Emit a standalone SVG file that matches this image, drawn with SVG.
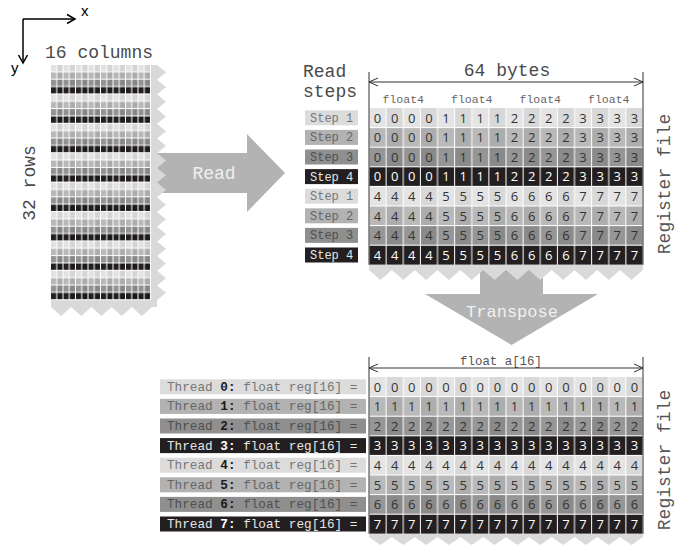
<svg xmlns="http://www.w3.org/2000/svg" width="675" height="546" viewBox="0 0 675 546">
<style>
.mono{font-family:"Liberation Mono","DejaVu Sans Mono",monospace}
.big{font-size:18px;fill:#4a4a4a}
.dig{font-family:"Open Sans","DejaVu Sans",sans-serif;font-size:13px;text-anchor:middle}
.dk{fill:#333}
.wt{fill:#fff}
.lbl{font-size:12px}
.thr{font-size:12.7px}
.sep{fill:#fff}
.ext{stroke:#333;stroke-width:1;fill:none}
.saw{fill:#d9d9d9}
.arw{fill:#b3b3b3}
.ax{stroke:#000;stroke-width:1.5;fill:none}
.reg{font-size:18px;fill:#555}
</style>
<defs>
<pattern id="src" x="51" y="65" width="12.5" height="29.4" patternUnits="userSpaceOnUse">
<rect x="0" y="0" width="5.25" height="6.35" fill="#e2e2e2"/><rect x="6.25" y="0" width="5.25" height="6.35" fill="#d4d4d4"/>
<rect x="0" y="7.35" width="5.25" height="6.35" fill="#b8b8b8"/><rect x="6.25" y="7.35" width="5.25" height="6.35" fill="#acacac"/>
<rect x="0" y="14.7" width="5.25" height="6.35" fill="#939393"/><rect x="6.25" y="14.7" width="5.25" height="6.35" fill="#878787"/>
<rect x="0" y="22.05" width="5.25" height="6.35" fill="#231f20"/><rect x="6.25" y="22.05" width="5.25" height="6.35" fill="#1c191a"/>
</pattern>
<pattern id="c0" x="369" y="0" width="34.25" height="600" patternUnits="userSpaceOnUse">
<rect x="0" y="0" width="17.125" height="600" fill="#e4e4e4"/><rect x="17.125" y="0" width="17.125" height="600" fill="#d8d8d8"/>
<rect x="16.625" y="0" width="1" height="600" fill="#fff"/><rect x="0" y="0" width="0.5" height="600" fill="#fff"/><rect x="33.75" y="0" width="0.5" height="600" fill="#fff"/>
</pattern>
<pattern id="c1" x="369" y="0" width="34.25" height="600" patternUnits="userSpaceOnUse">
<rect x="0" y="0" width="17.125" height="600" fill="#b9b9b9"/><rect x="17.125" y="0" width="17.125" height="600" fill="#adadad"/>
<rect x="16.625" y="0" width="1" height="600" fill="#fff"/><rect x="0" y="0" width="0.5" height="600" fill="#fff"/><rect x="33.75" y="0" width="0.5" height="600" fill="#fff"/>
</pattern>
<pattern id="c2" x="369" y="0" width="34.25" height="600" patternUnits="userSpaceOnUse">
<rect x="0" y="0" width="17.125" height="600" fill="#969696"/><rect x="17.125" y="0" width="17.125" height="600" fill="#8a8a8a"/>
<rect x="16.625" y="0" width="1" height="600" fill="#fff"/><rect x="0" y="0" width="0.5" height="600" fill="#fff"/><rect x="33.75" y="0" width="0.5" height="600" fill="#fff"/>
</pattern>
<pattern id="c3" x="369" y="0" width="34.25" height="600" patternUnits="userSpaceOnUse">
<rect x="0" y="0" width="34.25" height="600" fill="#231f20"/>
<rect x="16.625" y="0" width="1" height="600" fill="#fff"/><rect x="0" y="0" width="0.5" height="600" fill="#fff"/><rect x="33.75" y="0" width="0.5" height="600" fill="#fff"/>
</pattern>
</defs>
<rect x="0" y="0" width="675" height="546" fill="#fff"/>

<g id="axes">
<path class="ax" d="M23,19 V62 M23,19 H75"/>
<path class="ax" d="M18.5,55 L23,63 L27.5,55 M67,14.5 L75,19 L67,23.5"/>
<text x="81" y="16" font-family="Liberation Sans,Arial,sans-serif" font-size="15" fill="#000">x</text>
<text x="11" y="73" font-family="Liberation Sans,Arial,sans-serif" font-size="15" fill="#000">y</text>
</g>

<g id="source-grid">
<text class="mono big" x="45" y="58">16 columns</text>
<text class="mono big" transform="translate(35,183) rotate(-90)" text-anchor="middle">32 rows</text>
<rect x="51" y="65" width="100" height="235.2" fill="url(#src)"/>
</g>

<g id="read-arrow">
<polygon class="arw" points="152,153 247,153 247,134 285,173 247,212 247,193 152,193"/>
<polygon class="saw" points="151,65 157,65 166,72.35 157,79.7 166,87.05 157,94.4 166,101.75 157,109.1 166,116.45 157,123.8 166,131.15 157,138.5 166,145.85 157,153.2 166,160.55 157,167.9 166,175.25 157,182.6 166,189.95 157,197.3 166,204.65 157,212 166,219.35 157,226.7 166,234.05 157,241.4 166,248.75 157,256.1 166,263.45 157,270.8 166,278.15 157,285.5 166,292.85 157,300.2 157,307 152,307 141.9,316 131.8,307 121.7,316 111.6,307 101.5,316 91.4,307 81.3,316 71.2,307 61.1,316 51,307 51,300.2 151,300.2"/>
<text class="mono" x="214" y="179" font-size="18" fill="#f0f0f0" text-anchor="middle">Read</text>
</g>

<g id="read-steps">
<text class="mono big" x="303" y="77">Read</text>
<text class="mono big" x="303" y="97">steps</text>
<rect x="305" y="110.3" width="53" height="15" fill="#dcdcdc"/>
<rect x="305" y="129.9" width="53" height="15" fill="#b2b2b2"/>
<rect x="305" y="149.5" width="53" height="15" fill="#8f8f8f"/>
<rect x="305" y="169.1" width="53" height="15" fill="#231f20"/>
<rect x="305" y="188.7" width="53" height="15" fill="#dcdcdc"/>
<rect x="305" y="208.3" width="53" height="15" fill="#b2b2b2"/>
<rect x="305" y="227.9" width="53" height="15" fill="#8f8f8f"/>
<rect x="305" y="247.5" width="53" height="15" fill="#231f20"/>
<g class="mono lbl">
<text x="310" y="121.8" fill="#777">Step 1</text>
<text x="310" y="141.4" fill="#666">Step 2</text>
<text x="310" y="161" fill="#505050">Step 3</text>
<text x="310" y="180.6" fill="#e6e6e6">Step 4</text>
<text x="310" y="200.2" fill="#777">Step 1</text>
<text x="310" y="219.8" fill="#666">Step 2</text>
<text x="310" y="239.4" fill="#505050">Step 3</text>
<text x="310" y="259" fill="#e6e6e6">Step 4</text>
</g>
</g>

<g id="register-file-top">
<text class="mono big" x="507" y="76" text-anchor="middle">64 bytes</text>
<g class="mono" font-size="11.5" fill="#666" text-anchor="middle">
<text x="403.25" y="103">float4</text>
<text x="471.75" y="103">float4</text>
<text x="540.25" y="103">float4</text>
<text x="608.75" y="103">float4</text>
</g>
<rect x="369" y="108" width="274" height="19.6" fill="url(#c0)"/>
<rect x="369" y="127.6" width="274" height="19.6" fill="url(#c1)"/>
<rect x="369" y="147.2" width="274" height="19.6" fill="url(#c2)"/>
<rect x="369" y="166.8" width="274" height="19.6" fill="url(#c3)"/>
<rect x="369" y="186.4" width="274" height="19.6" fill="url(#c0)"/>
<rect x="369" y="206" width="274" height="19.6" fill="url(#c1)"/>
<rect x="369" y="225.6" width="274" height="19.6" fill="url(#c2)"/>
<rect x="369" y="245.2" width="274" height="19.6" fill="url(#c3)"/>
<g class="sep">
<rect x="369" y="127.1" width="274" height="1"/><rect x="369" y="146.7" width="274" height="1"/><rect x="369" y="166.3" width="274" height="1"/><rect x="369" y="185.9" width="274" height="1"/><rect x="369" y="205.5" width="274" height="1"/><rect x="369" y="225.1" width="274" height="1"/><rect x="369" y="244.7" width="274" height="1"/>
</g>
<g class="dig">
<text class="dk" x="377.56 394.69 411.81 428.94 446.06 463.19 480.31 497.44 514.56 531.69 548.81 565.94 583.06 600.19 617.31 634.44" y="122.5">0000111122223333</text>
<text class="dk" x="377.56 394.69 411.81 428.94 446.06 463.19 480.31 497.44 514.56 531.69 548.81 565.94 583.06 600.19 617.31 634.44" y="142.1">0000111122223333</text>
<text class="dk" x="377.56 394.69 411.81 428.94 446.06 463.19 480.31 497.44 514.56 531.69 548.81 565.94 583.06 600.19 617.31 634.44" y="161.7">0000111122223333</text>
<text class="wt" x="377.56 394.69 411.81 428.94 446.06 463.19 480.31 497.44 514.56 531.69 548.81 565.94 583.06 600.19 617.31 634.44" y="181.3">0000111122223333</text>
<text class="dk" x="377.56 394.69 411.81 428.94 446.06 463.19 480.31 497.44 514.56 531.69 548.81 565.94 583.06 600.19 617.31 634.44" y="200.9">4444555566667777</text>
<text class="dk" x="377.56 394.69 411.81 428.94 446.06 463.19 480.31 497.44 514.56 531.69 548.81 565.94 583.06 600.19 617.31 634.44" y="220.5">4444555566667777</text>
<text class="dk" x="377.56 394.69 411.81 428.94 446.06 463.19 480.31 497.44 514.56 531.69 548.81 565.94 583.06 600.19 617.31 634.44" y="240.1">4444555566667777</text>
<text class="wt" x="377.56 394.69 411.81 428.94 446.06 463.19 480.31 497.44 514.56 531.69 548.81 565.94 583.06 600.19 617.31 634.44" y="259.7">4444555566667777</text>
</g>
<text class="mono reg" transform="translate(670,184) rotate(-90)" text-anchor="middle">Register file</text>
</g>

<g id="transpose-arrow">
<polygon class="arw" points="480,266 543,266 543,294 598,294 511.5,345 425,294 480,294"/>
<polygon class="saw" points="369,264.8 643,264.8 643,270 631.58,280 620.17,270 608.75,280 597.33,270 585.92,280 574.5,270 563.08,280 551.67,270 540.25,280 528.83,270 517.42,280 506,270 494.58,280 483.17,270 471.75,280 460.33,270 448.92,280 437.5,270 426.08,280 414.67,270 403.25,280 391.83,270 380.42,280 369,270"/>
<text class="mono" x="512" y="317" font-size="17" fill="#f0f0f0" text-anchor="middle">Transpose</text>
</g>

<g id="thread-labels">
<rect x="160" y="379.3" width="206" height="15" fill="#dcdcdc"/>
<rect x="160" y="398.9" width="206" height="15" fill="#b2b2b2"/>
<rect x="160" y="418.5" width="206" height="15" fill="#8f8f8f"/>
<rect x="160" y="438.1" width="206" height="15" fill="#231f20"/>
<rect x="160" y="457.7" width="206" height="15" fill="#dcdcdc"/>
<rect x="160" y="477.3" width="206" height="15" fill="#b2b2b2"/>
<rect x="160" y="496.9" width="206" height="15" fill="#8f8f8f"/>
<rect x="160" y="516.5" width="206" height="15" fill="#231f20"/>
<g class="mono thr" xml:space="preserve">
<text x="167" y="390.8" fill="#777">Thread <tspan font-weight="bold" fill="#1a1a1a">0:</tspan> float reg[16] =</text>
<text x="167" y="410.4" fill="#666">Thread <tspan font-weight="bold" fill="#1a1a1a">1:</tspan> float reg[16] =</text>
<text x="167" y="430" fill="#505050">Thread <tspan font-weight="bold" fill="#1a1a1a">2:</tspan> float reg[16] =</text>
<text x="167" y="449.6" fill="#e6e6e6">Thread <tspan font-weight="bold" fill="#fff">3:</tspan> float reg[16] =</text>
<text x="167" y="469.2" fill="#777">Thread <tspan font-weight="bold" fill="#1a1a1a">4:</tspan> float reg[16] =</text>
<text x="167" y="488.8" fill="#666">Thread <tspan font-weight="bold" fill="#1a1a1a">5:</tspan> float reg[16] =</text>
<text x="167" y="508.4" fill="#505050">Thread <tspan font-weight="bold" fill="#1a1a1a">6:</tspan> float reg[16] =</text>
<text x="167" y="528" fill="#e6e6e6">Thread <tspan font-weight="bold" fill="#fff">7:</tspan> float reg[16] =</text>
</g>
</g>

<g id="register-file-bottom">
<text class="mono" x="501" y="365" font-size="12.4" fill="#555" text-anchor="middle">float a[16]</text>
<rect x="369" y="377" width="274" height="19.6" fill="url(#c0)"/>
<rect x="369" y="396.6" width="274" height="19.6" fill="url(#c1)"/>
<rect x="369" y="416.2" width="274" height="19.6" fill="url(#c2)"/>
<rect x="369" y="435.8" width="274" height="19.6" fill="url(#c3)"/>
<rect x="369" y="455.4" width="274" height="19.6" fill="url(#c0)"/>
<rect x="369" y="475" width="274" height="19.6" fill="url(#c1)"/>
<rect x="369" y="494.6" width="274" height="19.6" fill="url(#c2)"/>
<rect x="369" y="514.2" width="274" height="19.6" fill="url(#c3)"/>
<g class="sep">
<rect x="369" y="396.1" width="274" height="1"/><rect x="369" y="415.7" width="274" height="1"/><rect x="369" y="435.3" width="274" height="1"/><rect x="369" y="454.9" width="274" height="1"/><rect x="369" y="474.5" width="274" height="1"/><rect x="369" y="494.1" width="274" height="1"/><rect x="369" y="513.7" width="274" height="1"/>
</g>
<g class="dig">
<text class="dk" x="377.56 394.69 411.81 428.94 446.06 463.19 480.31 497.44 514.56 531.69 548.81 565.94 583.06 600.19 617.31 634.44" y="391.5">0000000000000000</text>
<text class="dk" x="377.56 394.69 411.81 428.94 446.06 463.19 480.31 497.44 514.56 531.69 548.81 565.94 583.06 600.19 617.31 634.44" y="411.1">1111111111111111</text>
<text class="dk" x="377.56 394.69 411.81 428.94 446.06 463.19 480.31 497.44 514.56 531.69 548.81 565.94 583.06 600.19 617.31 634.44" y="430.7">2222222222222222</text>
<text class="wt" x="377.56 394.69 411.81 428.94 446.06 463.19 480.31 497.44 514.56 531.69 548.81 565.94 583.06 600.19 617.31 634.44" y="450.3">3333333333333333</text>
<text class="dk" x="377.56 394.69 411.81 428.94 446.06 463.19 480.31 497.44 514.56 531.69 548.81 565.94 583.06 600.19 617.31 634.44" y="469.9">4444444444444444</text>
<text class="dk" x="377.56 394.69 411.81 428.94 446.06 463.19 480.31 497.44 514.56 531.69 548.81 565.94 583.06 600.19 617.31 634.44" y="489.5">5555555555555555</text>
<text class="dk" x="377.56 394.69 411.81 428.94 446.06 463.19 480.31 497.44 514.56 531.69 548.81 565.94 583.06 600.19 617.31 634.44" y="509.1">6666666666666666</text>
<text class="wt" x="377.56 394.69 411.81 428.94 446.06 463.19 480.31 497.44 514.56 531.69 548.81 565.94 583.06 600.19 617.31 634.44" y="528.7">7777777777777777</text>
</g>
<polygon class="saw" points="369,533.8 643,533.8 643,537 631.58,545 620.17,537 608.75,545 597.33,537 585.92,545 574.5,537 563.08,545 551.67,537 540.25,545 528.83,537 517.42,545 506,537 494.58,545 483.17,537 471.75,545 460.33,537 448.92,545 437.5,537 426.08,545 414.67,537 403.25,545 391.83,537 380.42,545 369,537"/>
<text class="mono reg" transform="translate(670,460) rotate(-90)" text-anchor="middle">Register file</text>
</g>

<g id="connectors">
<path class="ext" d="M369,72 V264.8 M643,72 V264.8 M369,82 H643 M378,78 L369,82 L378,86 M634,78 L643,82 L634,86"/>
<path class="ext" d="M369,357 V533.8 M643,357 V533.8 M369,368 H643 M378,364 L369,368 L378,372 M634,364 L643,368 L634,372"/>
</g>
</svg>
